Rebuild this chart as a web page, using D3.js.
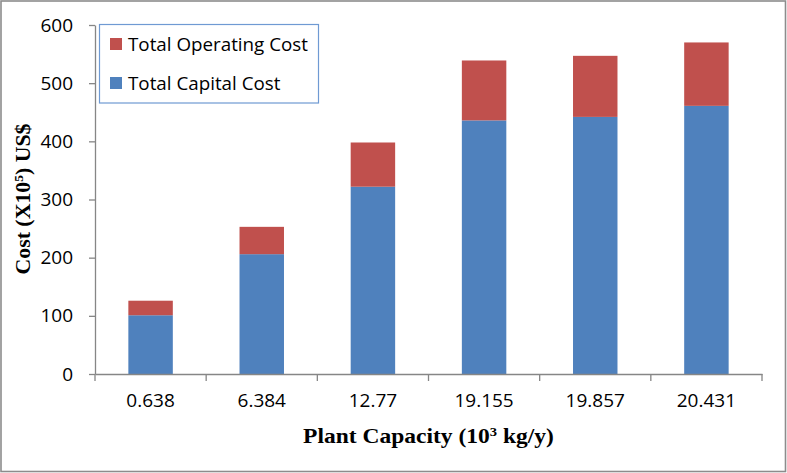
<!DOCTYPE html>
<html><head><meta charset="utf-8">
<script src="https://cdn.jsdelivr.net/npm/d3@7"></script>
<style>body{margin:0;background:#fff}</style>
</head><body>
<svg id="c" width="787" height="473"></svg>
<script>
const categories = ["0.638","6.384","12.77","19.155","19.857","20.431"];
const capitalCost = [101, 206, 322, 436, 442, 461];
const operatingCost = [25, 47, 76, 103, 105, 109];
const yTicks = [0,100,200,300,400,500,600];
const seriesNames = ["Total Capital Cost","Total Operating Cost"];
const colors = {"Total Capital Cost":"#4F81BD","Total Operating Cost":"#C0504D"};

const svg = d3.select("#c");
const W=787,H=473;
svg.append("rect").attr("x",1).attr("y",1).attr("width",W-2.5).attr("height",H-2.5)
  .attr("fill","#fff").attr("stroke","#8c8c8c").attr("stroke-width",1.6);

const x0=95,x1=762,y0=374,y1=25;
const x = d3.scaleBand().domain(categories).range([x0,x1]).padding(0);
const y = d3.scaleLinear().domain([0,600]).range([y0,y1]);
const barW = x.bandwidth()*0.4;

const data = categories.map((c,i)=>({cat:c,"Total Capital Cost":capitalCost[i],"Total Operating Cost":operatingCost[i]}));
const stack = d3.stack().keys(seriesNames)(data);

svg.append("g").selectAll("g").data(stack).join("g")
  .attr("fill",d=>colors[d.key])
  .selectAll("rect").data(d=>d).join("rect")
  .attr("x",d=>x(d.data.cat)+(x.bandwidth()-barW)/2)
  .attr("width",barW)
  .attr("y",d=>y(d[1]))
  .attr("height",d=>y(d[0])-y(d[1]));

const font = "'Open Sans', Lato, sans-serif";
// y axis
const ya = svg.append("g").attr("transform",`translate(${x0},0)`)
  .call(d3.axisLeft(y).tickValues(yTicks).tickSize(6).tickPadding(16).tickSizeOuter(0));
ya.select(".domain").attr("stroke","#868686").attr("stroke-width",1.3);
ya.selectAll(".tick line").attr("stroke","#868686").attr("stroke-width",1.3);
ya.selectAll(".tick text").attr("font-family",font).attr("font-size",19).attr("fill","#000");

// x axis
const xa = svg.append("g").attr("transform",`translate(0,${y0})`)
  .call(d3.axisBottom(x).tickSize(0).tickPadding(20).tickSizeOuter(0));
xa.select(".domain").attr("stroke","#868686").attr("stroke-width",1.3);
xa.selectAll(".tick text").attr("font-family",font).attr("font-size",19).attr("fill","#000");
// boundary ticks
const bounds = categories.map(c=>x(c)).concat([x1]);
svg.append("g").selectAll("line").data(bounds).join("line")
  .attr("x1",d=>d).attr("x2",d=>d).attr("y1",y0).attr("y2",y0+7)
  .attr("stroke","#868686").attr("stroke-width",1.3);

// axis titles
const serif = "'Liberation Serif', 'DejaVu Serif', serif";
const xt = svg.append("text").attr("transform",`translate(${(x0+x1)/2},443) scale(1.12,1)`).attr("text-anchor","middle")
  .attr("font-family",serif).attr("font-weight","bold").attr("font-size",21).attr("fill","#000");
xt.append("tspan").text("Plant Capacity (10");
xt.append("tspan").text("3").attr("font-size",13).attr("dy",-7);
xt.append("tspan").text(" kg/y)").attr("dy",7);

const yt = svg.append("text").attr("transform","translate(30,199) rotate(-90) scale(1.04,1)").attr("text-anchor","middle")
  .attr("font-family",serif).attr("font-weight","bold").attr("font-size",21).attr("fill","#000");
yt.append("tspan").text("Cost (X10");
yt.append("tspan").text("5").attr("font-size",13).attr("dy",-7);
yt.append("tspan").text(") US$").attr("dy",7);

// legend
const lg = svg.append("g");
lg.append("rect").attr("x",99.5).attr("y",24.5).attr("width",219).attr("height",78.5)
  .attr("fill","#fff").attr("stroke","#6f9ad3").attr("stroke-width",1.2);
const legendItems = ["Total Operating Cost","Total Capital Cost"];
legendItems.forEach((k,i)=>{
  const cy = 44 + i*39;
  lg.append("rect").attr("x",110).attr("y",cy-6).attr("width",12).attr("height",12).attr("fill",colors[k]);
  lg.append("text").attr("x",128).attr("y",cy+7).attr("font-family",font).attr("font-size",18.8)
    .attr("fill","#000").text(k);
});
</script>
</body></html>
